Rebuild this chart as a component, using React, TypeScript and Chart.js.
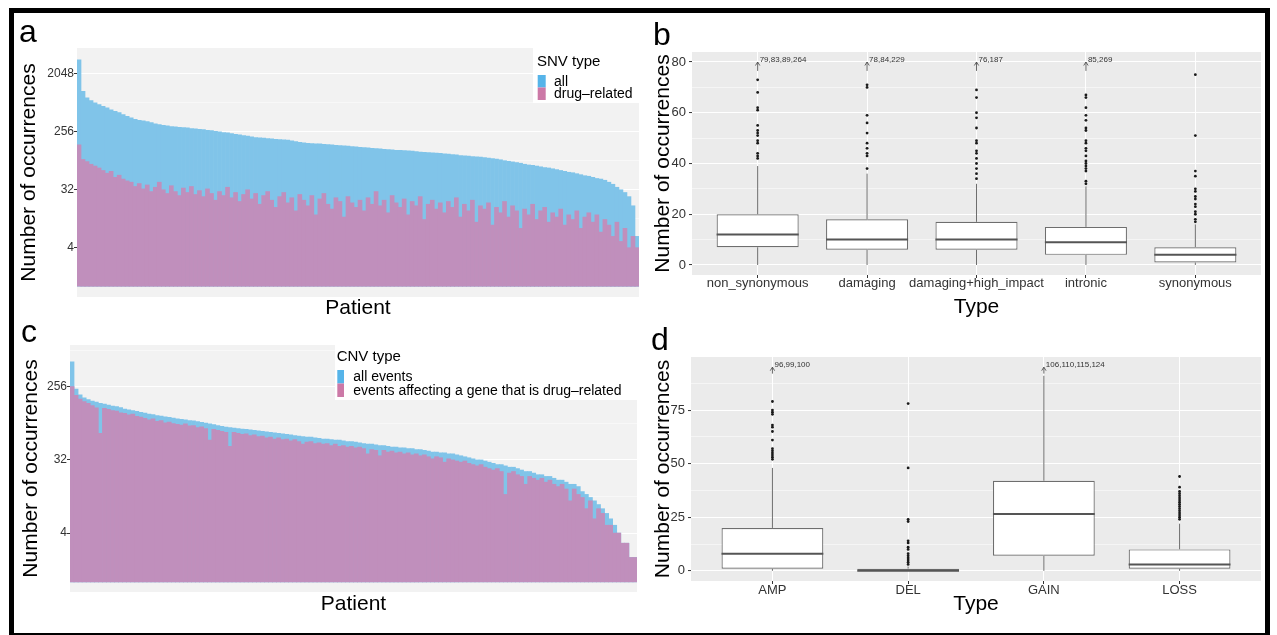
import React, { useEffect, useRef } from 'react';
import { Chart, registerables } from 'chart.js';

Chart.register(...registerables);

const FONT = "'Liberation Sans', Arial, Helvetica, sans-serif";
Chart.defaults.font.family = FONT;

// ---------------- Panel a : SNVs per patient (log2 axis) ----------------
const SNV_SERIES = ['all', 'drug\u2013related'];
const SNV_ALL = [
  3400, 1100, 866, 786, 724, 682, 641, 606, 563, 536,
  512, 477, 449, 422, 402, 388, 379, 369, 357, 340,
  332, 324, 317, 309, 306, 302, 298, 295, 288, 285,
  281, 278, 271, 268, 262, 256, 250, 247, 241, 235,
  229, 224, 219, 214, 208, 206, 204, 201, 199, 196,
  194, 192, 190, 185, 181, 176, 172, 170, 168, 167,
  166, 164, 162, 160, 158, 156, 155, 153, 151, 149,
  147, 146, 144, 142, 141, 139, 137, 135, 134, 132,
  132, 131, 129, 128, 126, 124, 123, 122, 120, 119,
  118, 116, 115, 113, 112, 109, 108, 107, 105, 104,
  103, 102, 100, 98, 96, 94, 91, 89, 87, 85,
  83, 80, 78, 77, 75, 73, 71, 70, 68, 66,
  64, 62, 60, 59, 57, 55, 53, 52, 50, 48,
  47, 45, 42, 39, 35, 32, 29, 25, 18, 6,
];
const SNV_DRUG = [
  160, 95, 88, 80, 75, 70, 64, 58, 62, 50,
  54, 47, 44, 42, 36, 40, 33, 38, 30, 35,
  42, 32, 28, 37, 30, 26, 34, 29, 36, 27,
  31, 25, 33, 28, 22, 30, 26, 35, 24, 29,
  21, 27, 32, 23, 28, 19, 26, 30, 22, 17,
  25, 29, 20, 24, 15, 27, 22, 18, 26, 13,
  23, 28, 19, 16, 24, 21, 12, 25, 20, 17,
  22, 15, 24, 19, 30, 18, 22, 14, 26, 20,
  17, 23, 13, 21, 18, 25, 11, 19, 22, 16,
  20, 14, 21, 17, 24, 12, 19, 15, 22, 10,
  18, 16, 20, 9, 17, 14, 21, 12, 18, 15,
  8, 16, 13, 19, 11, 15, 17, 10, 14, 12,
  16, 9, 13, 11, 15, 8, 12, 14, 10, 13,
  7, 11, 9, 6, 10, 5, 8, 4, 6, 4,
];
const SNV_TICKS = [4, 32, 256, 2048];

// ---------------- Panel c : CNVs per patient (log2 axis) ----------------
const CNV_SERIES = ['all events', 'events affecting a gene that is drug\u2013related'];
const CNV_ALL = [
  520, 240, 203, 186, 177, 170, 165, 160, 156, 152,
  148, 145, 141, 136, 133, 130, 127, 124, 121, 118,
  116, 113, 111, 109, 107, 105, 103, 101, 100, 98,
  97, 95, 93, 91, 89, 87, 85, 83, 81, 80,
  79, 78, 77, 76, 75, 74, 73, 72, 71, 70,
  69, 68, 67, 66, 65, 64, 63, 62, 61, 61,
  60, 59, 58, 58, 57, 56, 56, 55, 54, 54,
  53, 52, 51, 50, 50, 49, 48, 48, 47, 46,
  46, 45, 45, 44, 44, 43, 43, 42, 41, 40,
  40, 39, 39, 38, 38, 37, 36, 35, 34, 33,
  32, 32, 31, 30, 29, 28, 28, 27, 26, 26,
  25, 24, 23, 23, 22, 21, 21, 20, 20, 19,
  18, 18, 17, 16, 16, 15, 13, 12, 11, 10,
  9, 8, 7, 6, 5, 4, 3, 3, 2, 2,
];
const CNV_DRUG = [
  256, 200, 180, 168, 160, 150, 140, 68, 138, 135,
  130, 128, 122, 120, 115, 118, 110, 108, 104, 100,
  103, 96, 98, 92, 94, 90, 88, 86, 89, 84,
  85, 80, 82, 78, 56, 76, 74, 72, 70, 47,
  70, 68, 66, 67, 64, 65, 62, 63, 60, 61,
  58, 60, 57, 58, 55, 57, 54, 50, 53, 54,
  51, 52, 50, 51, 48, 50, 47, 48, 46, 47,
  45, 46, 44, 38, 43, 42, 36, 42, 40, 41,
  39, 40, 38, 39, 37, 38, 36, 37, 35, 33,
  35, 34, 30, 33, 32, 31, 30, 31, 29, 28,
  27, 28, 26, 25, 24, 25, 23, 12, 22, 23,
  21, 20, 16, 20, 19, 18, 19, 17, 18, 16,
  15, 16, 14, 10, 14, 12, 11, 8, 10, 6,
  8, 7, 5, 5, 4, 4, 3, 3, 2, 2,
];
const CNV_TICKS = [4, 32, 256];

// ---------------- Panel b : SNV type box plots ----------------
const SNV_TYPES = ['non_synonymous', 'damaging', 'damaging+high_impact', 'intronic', 'synonymous'];
const SNV_LOW = [0, 0, 0, 0, 0];
const SNV_Q1 = [7, 6, 6, 4, 1];
const SNV_MED = [12, 10, 10, 9, 4];
const SNV_Q3 = [20, 18, 17, 15, 7];
const SNV_HIGH = [39, 36, 32, 31, 16];
const SNV_OUTLIERS = [
  [42, 43, 44, 48, 49, 51, 52, 53, 55, 61, 62, 68, 73],
  [38, 43, 44, 46, 48, 52, 56, 59, 70, 71],
  [34, 36, 38, 40, 42, 44, 45, 48, 49, 54, 58, 60, 66, 69],
  [32, 33, 37, 38, 39, 40, 41, 43, 45, 46, 48, 49, 53, 54, 57, 59, 62, 66, 67],
  [17, 18, 20, 21, 23, 24, 26, 27, 29, 30, 35, 37, 51, 75],
];
const SNV_ARROW_LABELS = ['79,83,89,264', '78,84,229', '76,187', '85,269', ''];
const SNV_ARROW = [76.5, 80];
const SNV_BOX_TICKS = [0, 20, 40, 60, 80];

// ---------------- Panel d : CNV type box plots ----------------
const CNV_TYPES = ['AMP', 'DEL', 'GAIN', 'LOSS'];
const CNV_LOW = [0, 0, 0, 0];
const CNV_Q1 = [1, 0, 7, 1];
const CNV_MED = [8, 0, 26.5, 3];
const CNV_Q3 = [20, 1, 42, 10];
const CNV_HIGH = [48, 2, 91, 22];
const CNV_OUTLIERS = [
  [52, 53, 54, 55, 56, 57, 61, 65, 67, 68, 73, 74, 75, 79],
  [3, 4, 5, 6, 7, 8, 10, 11, 13, 14, 23, 24, 48, 78],
  [],
  [24, 25, 26, 27, 28, 29, 30, 31, 32, 33, 34, 35, 36, 37, 39, 44],
];
const CNV_ARROW_LABELS = ['96,99,100', '', '106,110,115,124', ''];
const CNV_ARROW = [92, 95];
const CNV_BOX_TICKS = [0, 25, 50, 75];

// ---------------- styling ----------------
const BLUE_BAR = 'rgb(128,196,233)';
const PINK_BAR = 'rgb(192,143,188)';
const KEY_BLUE = '#56B4E9';
const KEY_PINK = '#CC79A7';
const BOX_WIDTH = 0.75;
const Y_TITLE = 'Number of occurrences';

const panelBg = {
  id: 'panelBg',
  beforeDraw(chart: any, _a: any, opts: any) {
    const { ctx, chartArea: ca } = chart;
    if (!opts || !opts.color) return;
    ctx.save();
    ctx.fillStyle = opts.color;
    ctx.fillRect(ca.left, ca.top, ca.right - ca.left, ca.bottom - ca.top);
    ctx.restore();
  },
};

const ggLegend = {
  id: 'ggLegend',
  afterDraw(chart: any, _a: any, o: any) {
    if (!o || !o.title) return;
    const { ctx } = chart;
    ctx.save();
    ctx.fillStyle = '#FFFFFF';
    ctx.fillRect(o.box[0], o.box[1], o.box[2], o.box[3]);
    ctx.fillStyle = '#000000';
    ctx.textAlign = 'left';
    ctx.textBaseline = 'alphabetic';
    ctx.font = `15px ${FONT}`;
    ctx.fillText(o.title, o.titleAt[0], o.titleAt[1]);
    ctx.font = `14px ${FONT}`;
    ctx.textBaseline = 'middle';
    chart.data.datasets.forEach((ds: any, i: number) => {
      const top = o.keyTop + i * o.keyH;
      ctx.fillStyle = o.colors[i];
      ctx.fillRect(o.keyX, top, o.keyW, o.keyH);
      ctx.fillStyle = '#000000';
      ctx.fillText(ds.label, o.textX, top + o.keyH / 2 + 0.5);
    });
    ctx.restore();
  },
};

const arrowNotes = {
  id: 'arrowNotes',
  afterDatasetsDraw(chart: any, _a: any, o: any) {
    if (!o || !o.labels) return;
    const { ctx } = chart;
    const xs = chart.scales.x;
    const ys = chart.scales.y;
    ctx.save();
    ctx.strokeStyle = '#444444';
    ctx.fillStyle = '#333333';
    ctx.lineWidth = 0.8;
    ctx.font = `8px ${FONT}`;
    ctx.textAlign = 'left';
    ctx.textBaseline = 'middle';
    o.labels.forEach((text: string, i: number) => {
      if (!text) return;
      const px = xs.getPixelForValue(i + 1);
      const y0 = ys.getPixelForValue(o.range[0]);
      const y1 = ys.getPixelForValue(o.range[1]);
      ctx.beginPath();
      ctx.moveTo(px, y0);
      ctx.lineTo(px, y1);
      ctx.stroke();
      ctx.beginPath();
      ctx.moveTo(px - 2.2, y1 + 3.5);
      ctx.lineTo(px, y1);
      ctx.lineTo(px + 2.2, y1 + 3.5);
      ctx.stroke();
      ctx.fillText(text, px + 2, y1 - 2.5);
    });
    ctx.restore();
  },
};

function logGridTicks(majors: number[], min: number, max: number) {
  const r = Math.sqrt(majors[1] / majors[0]);
  const mids = [majors[0] / r, ...majors.map((m) => m * r)].filter((v) => v >= min && v <= max);
  return [...majors, ...mids].sort((a, b) => a - b).map((value) => ({ value }));
}

function linGridTicks(majors: number[], min: number, max: number) {
  const step = majors[1] - majors[0];
  const mids = majors.map((m) => m + step / 2).filter((v) => v >= min && v <= max);
  return [...majors, ...mids].sort((a, b) => a - b).map((value) => ({ value }));
}

function barConfig(p: any) {
  const { all, drug, series, ticks, min, max, L } = p;
  return {
    type: 'bar',
    data: {
      labels: all.map((_: number, i: number) => String(i + 1)),
      datasets: [
        { label: series[0], data: all, backgroundColor: BLUE_BAR, base: 1, grouped: false, order: 1, categoryPercentage: 1, barPercentage: 1, borderWidth: 0 },
        { label: series[1], data: drug, backgroundColor: PINK_BAR, base: 1, grouped: false, order: 0, categoryPercentage: 1, barPercentage: 1, borderWidth: 0 },
      ],
    },
    options: {
      animation: false,
      responsive: false,
      devicePixelRatio: 1,
      events: [],
      layout: { padding: { left: 0, top: L.top, right: L.right, bottom: 0 } },
      plugins: {
        legend: { display: false },
        tooltip: { enabled: false },
        panelBg: { color: '#F2F2F2' },
        ggLegend: p.legend,
      },
      scales: {
        x: {
          type: 'category',
          afterFit: (s: any) => { s.height = L.xHeight; },
          grid: { display: false },
          border: { display: false },
          ticks: { display: false },
          title: { display: true, text: 'Patient', color: '#000', font: { size: 21, lineHeight: 1 }, padding: { top: 0, bottom: L.xTitlePad } },
        },
        y: {
          type: 'logarithmic',
          min,
          max,
          afterBuildTicks: (s: any) => { s.ticks = logGridTicks(ticks, min, max); },
          afterFit: (s: any) => { s.width = L.yWidth; },
          border: { display: false },
          grid: {
            color: '#FFFFFF',
            lineWidth: (c: any) => (c.tick && ticks.includes(c.tick.value) ? 1 : 0.5),
            tickColor: (c: any) => (c.tick && ticks.includes(c.tick.value) ? '#333333' : 'rgba(0,0,0,0)'),
            tickWidth: 1,
            tickLength: 3,
          },
          ticks: {
            callback: (v: number) => (ticks.includes(v) ? String(v) : ''),
            color: '#333333',
            font: { size: 12 },
            padding: 0,
            autoSkip: false,
          },
          title: { display: true, text: Y_TITLE, color: '#000', font: { size: 21, lineHeight: 1 }, padding: { top: L.yTitlePad, bottom: 0 } },
        },
      },
    },
    plugins: [panelBg, ggLegend],
  };
}

function boxConfig(p: any) {
  const { types, low, q1, med, q3, high, outliers, arrowLabels, arrowRange, majors, min, max, L } = p;
  const half = BOX_WIDTH / 2;
  const whiskers: any[] = [];
  const medians: any[] = [];
  const points: any[] = [];
  types.forEach((_: string, i: number) => {
    const k = i + 1;
    whiskers.push({ x: k, y: q3[i] }, { x: k, y: high[i] }, { x: k, y: null }, { x: k, y: low[i] }, { x: k, y: q1[i] }, { x: k, y: null });
    medians.push({ x: k - half, y: med[i] }, { x: k + half, y: med[i] }, { x: k + half, y: null });
    outliers[i].forEach((v: number) => points.push({ x: k, y: v }));
  });
  const boxes = types.map((_: string, i: number) => ({ x: i + 1, y: [q1[i], q3[i]] }));
  return {
    type: 'scatter',
    data: {
      datasets: [
        { type: 'line', data: whiskers, borderColor: '#6E6E6E', borderWidth: 1, pointRadius: 0, spanGaps: false, fill: false, order: 3 },
        { type: 'bar', data: boxes, backgroundColor: '#FFFFFF', borderColor: '#6E6E6E', borderWidth: 1.2, borderSkipped: false, categoryPercentage: BOX_WIDTH, barPercentage: 1, order: 2 },
        { type: 'scatter', data: points, pointRadius: 1.4, pointBackgroundColor: '#1A1A1A', pointBorderWidth: 0, pointBorderColor: 'rgba(0,0,0,0)', order: 1 },
        { type: 'line', data: medians, borderColor: '#555555', borderWidth: 2, pointRadius: 0, spanGaps: false, fill: false, borderCapStyle: 'butt', order: 0 },
      ],
    },
    options: {
      animation: false,
      responsive: false,
      devicePixelRatio: 1,
      events: [],
      layout: { padding: { left: 0, top: L.top, right: L.right, bottom: 0 } },
      plugins: {
        legend: { display: false },
        tooltip: { enabled: false },
        panelBg: { color: '#EBEBEB' },
        arrowNotes: { labels: arrowLabels, range: arrowRange },
      },
      scales: {
        x: {
          type: 'linear',
          min: 0.4,
          max: types.length + 0.6,
          offset: false,
          afterBuildTicks: (s: any) => { s.ticks = types.map((_: string, i: number) => ({ value: i + 1 })); },
          afterFit: (s: any) => { s.height = L.xHeight; },
          border: { display: false },
          grid: { color: '#FFFFFF', lineWidth: 1, offset: false, tickColor: '#333333', tickLength: 3 },
          ticks: {
            callback: (v: number) => types[Math.round(v) - 1] ?? '',
            color: '#333333',
            font: { size: 13, lineHeight: 0.6 },
            padding: L.xTickPad,
            maxRotation: 0,
            autoSkip: false,
          },
          title: { display: true, text: 'Type', color: '#000', font: { size: 21, lineHeight: 1 }, padding: { top: 0, bottom: L.xTitlePad } },
        },
        y: {
          type: 'linear',
          min,
          max,
          afterBuildTicks: (s: any) => { s.ticks = linGridTicks(majors, min, max); },
          afterFit: (s: any) => { s.width = L.yWidth; },
          border: { display: false },
          grid: {
            color: '#FFFFFF',
            lineWidth: (c: any) => (c.tick && majors.includes(c.tick.value) ? 1.1 : 0.5),
            tickColor: (c: any) => (c.tick && majors.includes(c.tick.value) ? '#333333' : 'rgba(0,0,0,0)'),
            tickWidth: 1,
            tickLength: 3,
          },
          ticks: {
            callback: (v: number) => (majors.includes(v) ? String(v) : ''),
            color: '#333333',
            font: { size: 13 },
            padding: 3,
            autoSkip: false,
          },
          title: { display: true, text: Y_TITLE, color: '#000', font: { size: 21, lineHeight: 1 }, padding: { top: L.yTitlePad, bottom: 0 } },
        },
      },
    },
    plugins: [panelBg, arrowNotes],
  };
}

const CANVASES = [
  { key: 'a', left: 0, top: 0, w: 645, h: 320 },
  { key: 'b', left: 645, top: 0, w: 625, h: 320 },
  { key: 'c', left: 0, top: 320, w: 645, h: 315 },
  { key: 'd', left: 645, top: 320, w: 625, h: 315 },
];

const LETTERS = [
  { t: 'a', left: 19, top: 15 },
  { t: 'b', left: 653, top: 18 },
  { t: 'c', left: 21, top: 315 },
  { t: 'd', left: 651, top: 323 },
];

export default function App() {
  const refA = useRef<HTMLCanvasElement>(null);
  const refB = useRef<HTMLCanvasElement>(null);
  const refC = useRef<HTMLCanvasElement>(null);
  const refD = useRef<HTMLCanvasElement>(null);

  useEffect(() => {
    const charts: Chart[] = [];
    const cfgA = barConfig({
      all: SNV_ALL, drug: SNV_DRUG, series: SNV_SERIES, ticks: SNV_TICKS, min: 0.68, max: 5200,
      L: { top: 48, right: 6, yWidth: 77, xHeight: 23, yTitlePad: 19, xTitlePad: 1 },
      legend: { title: 'SNV type', box: [533, 48, 107, 55], titleAt: [537, 66], keyX: 537.7, keyW: 8, keyTop: 75, keyH: 12.5, textX: 554, colors: [KEY_BLUE, KEY_PINK] },
    });
    const cfgC = barConfig({
      all: CNV_ALL, drug: CNV_DRUG, series: CNV_SERIES, ticks: CNV_TICKS, min: 0.75, max: 837,
      L: { top: 25, right: 8, yWidth: 70, xHeight: 43, yTitlePad: 20.5, xTitlePad: 20 },
      legend: { title: 'CNV type', box: [335, 19, 303, 61], titleAt: [336.7, 40.7], keyX: 337.3, keyW: 6.7, keyTop: 50, keyH: 13.5, textX: 353.3, colors: [KEY_BLUE, KEY_PINK] },
    });
    const cfgB = boxConfig({
      types: SNV_TYPES, low: SNV_LOW, q1: SNV_Q1, med: SNV_MED, q3: SNV_Q3, high: SNV_HIGH, outliers: SNV_OUTLIERS,
      arrowLabels: SNV_ARROW_LABELS, arrowRange: SNV_ARROW, majors: SNV_BOX_TICKS, min: -3.95, max: 83.95,
      L: { top: 52, right: 9, yWidth: 47, xHeight: 45, yTitlePad: 7.5, xTitlePad: 2, xTickPad: 2 },
    });
    const cfgD = boxConfig({
      types: CNV_TYPES, low: CNV_LOW, q1: CNV_Q1, med: CNV_MED, q3: CNV_Q3, high: CNV_HIGH, outliers: CNV_OUTLIERS,
      arrowLabels: CNV_ARROW_LABELS, arrowRange: CNV_ARROW, majors: CNV_BOX_TICKS, min: -4.75, max: 99.75,
      L: { top: 37, right: 9, yWidth: 46, xHeight: 54, yTitlePad: 7.5, xTitlePad: 20, xTickPad: 3 },
    });
    const pairs: [HTMLCanvasElement | null, any][] = [
      [refA.current, cfgA], [refB.current, cfgB], [refC.current, cfgC], [refD.current, cfgD],
    ];
    pairs.forEach(([el, cfg]) => {
      if (el) charts.push(new Chart(el, cfg));
    });
    return () => charts.forEach((c) => c.destroy());
  }, []);

  const refs = [refA, refB, refC, refD];

  return (
    <div style={{ position: 'absolute', left: 0, top: 0, width: 1277, height: 635, background: '#FFFFFF', overflow: 'hidden', fontFamily: FONT }}>
      <div style={{ position: 'absolute', left: 9, top: 8, width: 1261, height: 630, border: '5px solid #000', boxSizing: 'border-box' }} />
      {CANVASES.map((c, i) => (
        <canvas
          key={c.key}
          ref={refs[i]}
          width={c.w}
          height={c.h}
          style={{ position: 'absolute', left: c.left, top: c.top, width: c.w, height: c.h, display: 'block' }}
        />
      ))}
      {LETTERS.map((l) => (
        <span key={l.t} style={{ position: 'absolute', left: l.left, top: l.top, fontSize: 32, lineHeight: 1, color: '#000', fontFamily: FONT }}>
          {l.t}
        </span>
      ))}
    </div>
  );
}
